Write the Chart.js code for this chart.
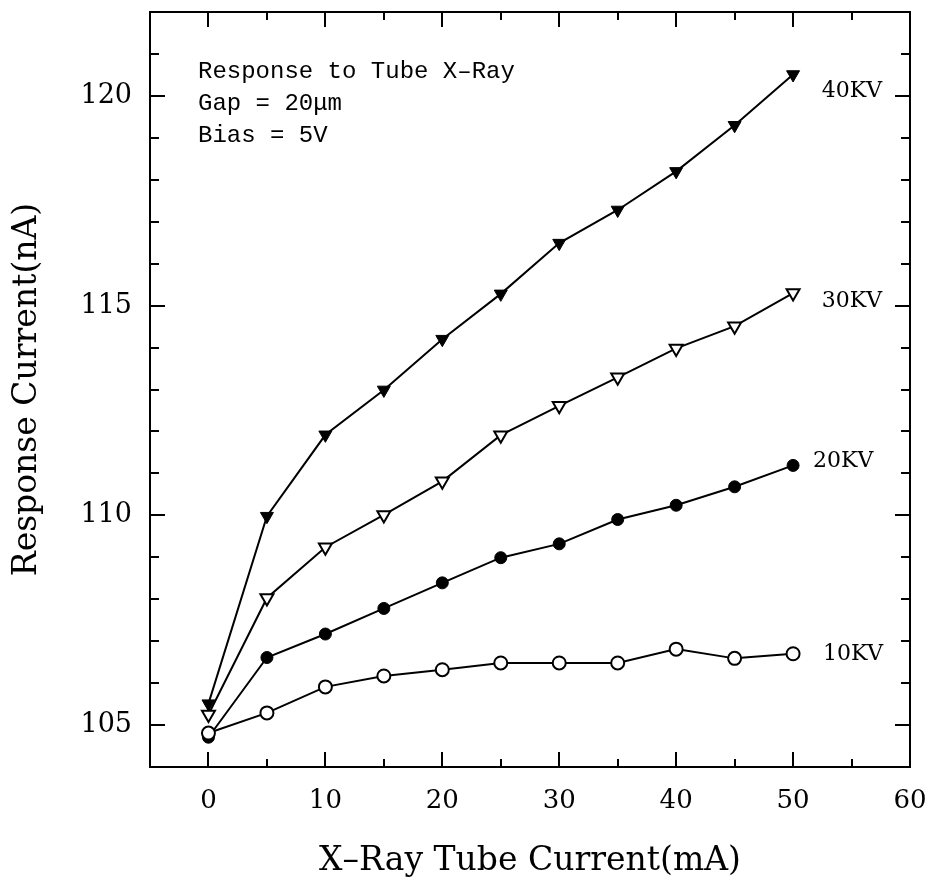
<!DOCTYPE html>
<html>
<head>
<meta charset="utf-8">
<script src="https://cdn.jsdelivr.net/npm/chart.js@4.4.1/dist/chart.umd.min.js"></script>
<style>
  html, body { margin: 0; padding: 0; background: #fff; }
  #wrap { width: 927px; height: 887px; }
</style>
</head>
<body>
<div id="wrap"><canvas id="chart" width="927" height="887"></canvas></div>
<script>
// tube current (mA)
const tubeCurrent = [0, 5, 10, 15, 20, 25, 30, 35, 40, 45, 50];

// response current (nA)
const kv40 = [105.51, 109.98, 111.92, 112.99, 114.20, 115.28, 116.49, 117.28, 118.20, 119.30, 120.51];
const kv30 = [105.25, 108.03, 109.24, 110.01, 110.81, 111.91, 112.61, 113.29, 113.98, 114.51, 115.30];
const kv20 = [104.71, 106.61, 107.17, 107.78, 108.39, 108.99, 109.32, 109.90, 110.24, 110.68, 111.19];
const kv10 = [104.81, 105.29, 105.91, 106.17, 106.32, 106.48, 106.48, 106.48, 106.81, 106.59, 106.70];

const seriesNames = ['40KV', '30KV', '20KV', '10KV'];
// where each curve label sits (x of left edge, y of middle) in data units
const labelX = [52.45, 52.45, 51.7, 52.55];
const labelY = [120.11, 115.11, 111.29, 106.69];

const xTicks = [0, 10, 20, 30, 40, 50, 60];
const xMinorTicks = [0, 5, 10, 15, 20, 25, 30, 35, 40, 45, 50, 55];
const yTicks = [105, 110, 115, 120];
const yMinorTicks = [105, 106, 107, 108, 109, 110, 111, 112, 113, 114, 115, 116, 117, 118, 119, 120, 121];

const noteLines = ['Response to Tube X\u2013Ray', 'Gap = 20\u03bcm', 'Bias = 5V'];

const SERIF = '"DejaVu Serif", serif';

function pts(ys) {
    return tubeCurrent.map((x, i) => ({ x: x, y: ys[i] }));
}

function noEdgePadding(s) {
    s.paddingLeft = 0; s.paddingRight = 0;
    s.paddingTop = 0; s.paddingBottom = 0;
}

// box around the plot + inward ticks on all four sides
const frameTicks = {
    id: 'frameTicks',
    beforeDatasetsDraw(chart) {
        const { ctx, chartArea: a, scales: { x, y } } = chart;
        ctx.save();
        ctx.strokeStyle = '#000';
        ctx.lineWidth = 2;
        ctx.strokeRect(a.left, a.top, a.right - a.left, a.bottom - a.top);
        ctx.beginPath();
        xMinorTicks.forEach(v => {
            const px = Math.round(x.getPixelForValue(v));
            const len = xTicks.includes(v) ? 15 : 8;
            ctx.moveTo(px, a.bottom); ctx.lineTo(px, a.bottom - len);
            ctx.moveTo(px, a.top); ctx.lineTo(px, a.top + len);
        });
        yMinorTicks.forEach(v => {
            const py = Math.round(y.getPixelForValue(v));
            const len = yTicks.includes(v) ? 15 : 9;
            ctx.moveTo(a.left, py); ctx.lineTo(a.left + len, py);
            ctx.moveTo(a.right, py); ctx.lineTo(a.right - len, py);
        });
        ctx.stroke();
        ctx.restore();
    },
    afterDatasetsDraw(chart) {
        const { ctx, chartArea: a, scales: { x, y } } = chart;
        ctx.save();
        ctx.fillStyle = '#000';
        ctx.textBaseline = 'middle';
        ctx.textAlign = 'left';
        ctx.font = '22px ' + SERIF;
        seriesNames.forEach((name, i) => {
            ctx.fillText(name, x.getPixelForValue(labelX[i]), y.getPixelForValue(labelY[i]));
        });
        ctx.font = '24px "Liberation Mono", monospace';
        ctx.textBaseline = 'alphabetic';
        noteLines.forEach((t, i) => {
            ctx.fillText(t, a.left + 48, a.top + 66 + i * 32);
        });
        ctx.restore();
    }
};

new Chart(document.getElementById('chart'), {
    type: 'scatter',
    data: {
        datasets: [
            {
                label: '10KV', data: pts(kv10), showLine: true,
                borderColor: '#000', borderWidth: 2,
                pointStyle: 'circle', pointRadius: 6.5,
                pointBackgroundColor: '#fff', pointBorderColor: '#000', pointBorderWidth: 2
            },
            {
                label: '20KV', data: pts(kv20), showLine: true,
                borderColor: '#000', borderWidth: 2,
                pointStyle: 'circle', pointRadius: 6,
                pointBackgroundColor: '#000', pointBorderColor: '#000', pointBorderWidth: 1
            },
            {
                label: '30KV', data: pts(kv30), showLine: true,
                borderColor: '#000', borderWidth: 2,
                pointStyle: 'triangle', pointRotation: 180, pointRadius: 7.5,
                pointBackgroundColor: '#fff', pointBorderColor: '#000', pointBorderWidth: 2
            },
            {
                label: '40KV', data: pts(kv40), showLine: true,
                borderColor: '#000', borderWidth: 2,
                pointStyle: 'triangle', pointRotation: 180, pointRadius: 7.5,
                pointBackgroundColor: '#000', pointBorderColor: '#000', pointBorderWidth: 1
            }
        ]
    },
    options: {
        responsive: false,
        animation: false,
        devicePixelRatio: 1,
        layout: { padding: { left: 0, top: 12, right: 17, bottom: 0 } },
        plugins: { legend: { display: false }, tooltip: { enabled: false } },
        scales: {
            x: {
                type: 'linear', min: -5, max: 60,
                grid: { display: false, drawTicks: false },
                border: { display: false },
                afterBuildTicks: s => { s.ticks = xTicks.map(v => ({ value: v })); },
                afterFit: s => { s.height = 120; noEdgePadding(s); },
                ticks: { color: '#000', padding: 19, maxRotation: 0, font: { family: SERIF, size: 26 } },
                title: {
                    display: true, text: 'X\u2013Ray Tube Current(mA)', color: '#000',
                    font: { family: SERIF, size: 33 }, padding: { top: 0, bottom: 6 }
                }
            },
            y: {
                type: 'linear', min: 104, max: 122,
                grid: { display: false, drawTicks: false },
                border: { display: false },
                afterBuildTicks: s => { s.ticks = yTicks.map(v => ({ value: v })); },
                afterFit: s => { s.width = 150; noEdgePadding(s); },
                ticks: { color: '#000', padding: 18, font: { family: SERIF, size: 27 } },
                title: {
                    display: true, text: 'Response Current(nA)', color: '#000',
                    font: { family: SERIF, size: 33 }, padding: { top: 8, bottom: 0 }
                }
            }
        }
    },
    plugins: [frameTicks]
});
</script>
</body>
</html>
